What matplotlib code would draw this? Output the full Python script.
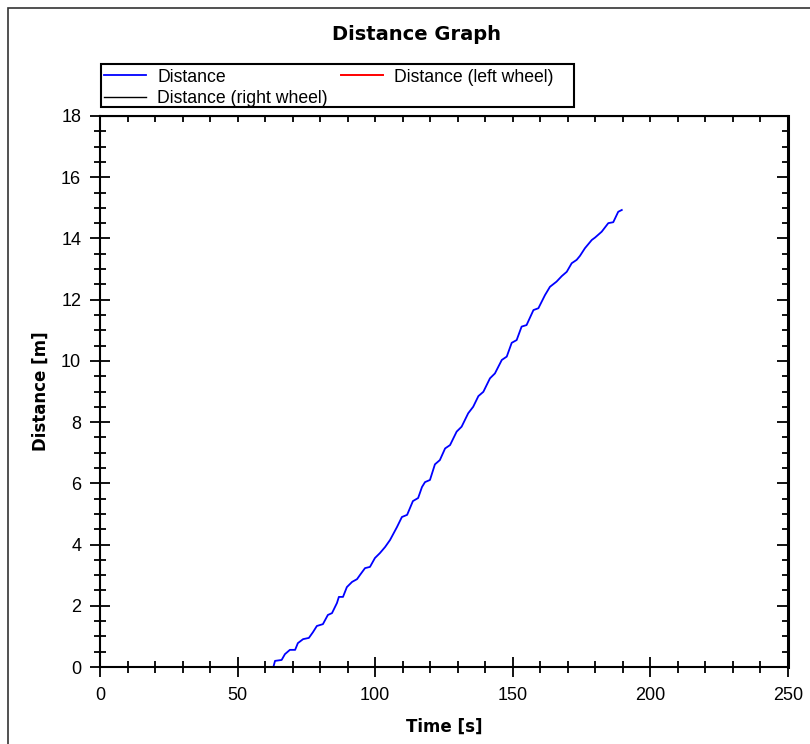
"""Distance graph: travelled distance of the robot over time."""

import matplotlib

matplotlib.use("Agg")
import matplotlib.pyplot as plt
from matplotlib.patches import Rectangle
from matplotlib.ticker import MultipleLocator

plt.rcParams["font.family"] = ["Liberation Sans", "DejaVu Sans"]

# Values (time in s, distance in m).
time_s = [
    63.0, 63.6, 66.0, 67.2, 69.0, 70.9, 71.9, 73.8, 75.9, 77.4, 78.8, 81.0,
    82.8, 84.3, 86.1, 86.8, 88.3, 89.7, 91.6, 93.4, 94.5, 96.3, 98.1, 99.9,
    101.7, 103.6, 105.4, 107.9, 109.7, 111.6, 113.7, 115.6, 117.0, 118.1,
    119.9, 121.7, 123.5, 125.4, 127.2, 129.6, 131.4, 133.8, 135.6, 137.5,
    139.3, 141.7, 143.5, 146.0, 147.8, 149.6, 151.4, 153.2, 155.0, 157.5,
    159.3, 161.7, 163.5, 165.9, 167.8, 169.6, 171.4, 173.2, 174.4, 176.2,
    178.7, 179.9, 182.3, 184.7, 186.5, 188.3, 189.6,
]
distance_m = [
    0.0, 0.20, 0.23, 0.42, 0.56, 0.56, 0.78, 0.91, 0.95, 1.14, 1.34, 1.40,
    1.70, 1.76, 2.09, 2.29, 2.29, 2.61, 2.78, 2.87, 3.01, 3.23, 3.27, 3.56,
    3.72, 3.92, 4.15, 4.57, 4.90, 4.97, 5.42, 5.52, 5.88, 6.04,
    6.11, 6.62, 6.76, 7.14, 7.25, 7.69, 7.85, 8.29, 8.50, 8.85,
    8.99, 9.43, 9.59, 10.03, 10.14, 10.59, 10.68, 11.12, 11.17, 11.66,
    11.72, 12.15, 12.42, 12.59, 12.77, 12.91, 13.19, 13.30, 13.43, 13.68,
    13.95, 14.03, 14.22, 14.50, 14.53, 14.87, 14.93,
]
# The wheel series carry no visible data in the reference.
left_wheel_t, left_wheel_d = [], []
right_wheel_t, right_wheel_d = [], []

W, H = 810, 744
fig = plt.figure(figsize=(W / 100, H / 100), dpi=100)
ax = fig.add_axes([100 / W, 1 - 667 / H, 688 / W, 551 / H])

ax.plot(time_s, distance_m, color="#0000ff", lw=1.3, label="Distance")
ax.plot(left_wheel_t, left_wheel_d, color="#ff0000", lw=1.4,
        label="Distance (left wheel)")
ax.plot(right_wheel_t, right_wheel_d, color="black", lw=1.0,
        label="Distance (right wheel)")

ax.set_xlim(0, 250)
ax.set_ylim(0, 18)
ax.xaxis.set_major_locator(MultipleLocator(50))
ax.xaxis.set_minor_locator(MultipleLocator(10))
ax.yaxis.set_major_locator(MultipleLocator(2))
ax.yaxis.set_minor_locator(MultipleLocator(0.5))
ax.tick_params(which="both", direction="inout", width=1.3, labelsize=13,
               top=False, right=False)
ax.tick_params(which="major", length=15)
ax.tick_params(which="minor", length=8)
ax.tick_params(axis="x", pad=7)
ax.tick_params(axis="y", pad=6)

for side in ("left", "bottom", "top"):
    ax.spines[side].set_linewidth(1.5)
ax.spines["right"].set_linewidth(2.2)

# Top and right sides only carry short inward ticks.
top = ax.secondary_xaxis("top")
top.xaxis.set_major_locator(MultipleLocator(10))
top.tick_params(direction="in", length=4, width=1.3, labeltop=False)
right = ax.secondary_yaxis("right")
right.yaxis.set_major_locator(MultipleLocator(2))
right.yaxis.set_minor_locator(MultipleLocator(0.5))
right.tick_params(which="major", direction="in", length=8, width=1.3,
                  labelright=False)
right.tick_params(which="minor", direction="in", length=4, width=1.3)

label_font = dict(fontsize=12, fontweight="bold", family="DejaVu Sans")
ax.set_xlabel("Time [s]", labelpad=10, **label_font)
ax.set_ylabel("Distance [m]", labelpad=8, **label_font)

fig.text(416 / W, 1 - 35 / H, "Distance Graph", ha="center", va="center",
         fontsize=14, fontweight="bold", family="DejaVu Sans")

# Legend order: column 1 holds Distance and right wheel, column 2 left wheel.
handles, labels = ax.get_legend_handles_labels()
order = [0, 2, 1]
leg = fig.legend([handles[i] for i in order], [labels[i] for i in order],
                 ncol=2, loc="upper left",
                 bbox_to_anchor=(104 / W, 1 - 68.5 / H),
                 fontsize=12.7, frameon=False, borderaxespad=0, borderpad=0,
                 handlelength=2.4, handletextpad=0.62, labelspacing=0.25,
                 columnspacing=0.75)
fig.patches.append(Rectangle((101 / W, 1 - 107 / H), 473 / W, 43 / H,
                             transform=fig.transFigure, fill=False,
                             edgecolor="black", lw=1.5))

# Outer frame of the original window (only left and top edges visible).
fig.patches.append(Rectangle((8 / W, -0.1), 1.2, 1 - 8 / H + 0.1,
                             transform=fig.transFigure, fill=False,
                             edgecolor="#333333", lw=1.2))

fig.savefig("out.png", dpi=100)
